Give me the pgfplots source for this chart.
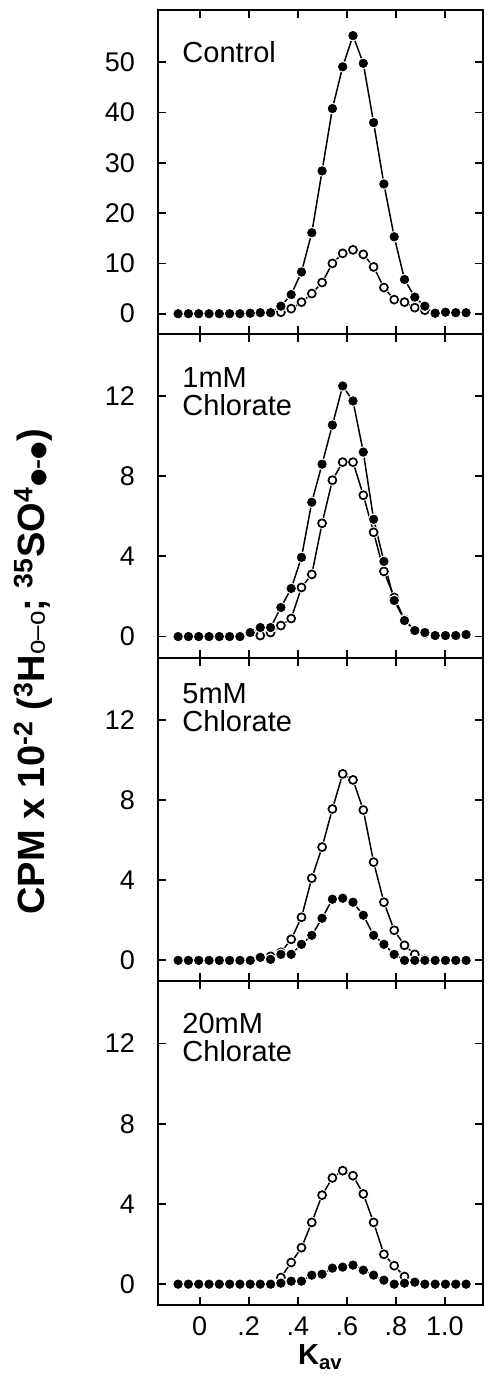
\documentclass[border=0pt]{standalone}
\usepackage{fontspec}
\setmainfont{Liberation Sans}
\newfontfamily\sym{DejaVu Sans}
\usepackage{pgfplots}
\pgfplotsset{compat=1.18}
\usepackage{pgfplotstable}

% x = K_av ; f = 35SO4 (filled) ; o = 3H (open)
\pgfplotstableread{
x f o
-0.088 0 nan
-0.046 0 nan
-0.004 0 nan
0.038 0 nan
0.080 0 nan
0.122 0 nan
0.164 0 nan
0.206 0.1 nan
0.247 0.2 nan
0.289 0.2 nan
0.331 1.5 0.3
0.373 3.8 1.0
0.415 8.3 2.3
0.457 16.1 4.0
0.499 28.4 6.2
0.541 40.8 10.0
0.583 49.1 12.0
0.625 55.3 12.7
0.667 49.8 11.8
0.709 38.0 9.3
0.751 25.8 5.2
0.793 15.3 2.8
0.835 6.8 2.3
0.877 3.3 1.2
0.918 1.5 0.7
0.960 0.1 nan
1.002 0.3 nan
1.044 0.2 nan
1.086 0.2 nan
}\tabA

\pgfplotstableread{
x f o
-0.088 0 nan
-0.046 0 nan
-0.004 0 nan
0.038 0 nan
0.080 0 nan
0.122 0 nan
0.164 0 nan
0.206 0.2 nan
0.247 0.45 0.05
0.289 0.45 0.2
0.331 1.45 0.55
0.373 2.4 0.9
0.415 3.95 2.45
0.457 6.7 3.1
0.499 8.6 5.65
0.541 10.55 7.8
0.583 12.5 8.7
0.625 11.75 8.7
0.667 9.2 7.05
0.709 5.85 5.2
0.751 3.75 3.25
0.793 1.8 1.95
0.835 0.8 0.85
0.877 0.3 0.3
0.918 0.2 0.15
0.960 0.05 nan
1.002 0.05 nan
1.044 0.05 nan
1.086 0.1 nan
}\tabB

\pgfplotstableread{
x f o
-0.088 0 nan
-0.046 0 nan
-0.004 0 nan
0.038 0 nan
0.080 0 nan
0.122 0 nan
0.164 0 nan
0.206 0 nan
0.247 0.15 nan
0.289 0.05 0.2
0.331 0.3 0.4
0.373 0.3 1.05
0.415 0.8 2.15
0.457 1.25 4.1
0.499 2.1 5.65
0.541 3.05 7.55
0.583 3.1 9.3
0.625 2.9 9.0
0.667 2.25 7.5
0.709 1.25 4.9
0.751 0.8 2.9
0.793 0.3 1.5
0.835 0 0.75
0.877 0 0.3
0.918 0 0.05
0.960 0 nan
1.002 0 nan
1.044 0 nan
1.086 0 nan
}\tabC

\pgfplotstableread{
x f o
-0.088 0 nan
-0.046 0 nan
-0.004 0 nan
0.038 0 nan
0.080 0 nan
0.122 0 nan
0.164 0 nan
0.206 0 nan
0.247 0 nan
0.289 0 nan
0.331 0.05 0.33
0.373 0.15 1.08
0.415 0.15 1.82
0.457 0.45 3.08
0.499 0.5 4.44
0.541 0.8 5.3
0.583 0.85 5.66
0.625 0.95 5.41
0.667 0.7 4.5
0.709 0.45 3.08
0.751 0.2 1.49
0.793 0 0.92
0.835 0.05 0.38
0.877 0.1 nan
0.918 0 nan
0.960 0 nan
1.002 0 nan
1.044 0 nan
1.086 0 nan
}\tabD

\tikzset{
  ptxt/.style={anchor=north west, align=left, inner sep=0pt, font=\fontsize{14.5}{14}\selectfont},
}
\pgfplotsset{
  panel/.style={
    scale only axis, width=162.5pt, height=161.9pt,
    anchor=north west,
    xmin=-0.17, xmax=1.155,
    xtick={0,0.2,0.4,0.6,0.8,1.0},
    xticklabels={},
    tick align=inside, major tick length=4pt,
    axis line style={line width=1pt},
    every tick/.style={black, line width=0.9pt},
    yticklabel style={font=\fontsize{13.5}{16}\selectfont, xshift=-8pt},
    xticklabel style={font=\fontsize{13.5}{16}\selectfont, yshift=-2.2pt},
    /pgf/number format/assume math mode=true,
    ymin=-1.05, ymax=15.1, ytick={0,4,8,12},
    clip=false,
  },
  dline/.style={black, line width=0.75pt, no marks},
  halo/.style={white, only marks, mark=*, mark size=2.5pt, mark options={fill=white, draw=white, line width=0.8pt}},
  fmk/.style={black, only marks, mark=*, mark size=2.15pt, mark options={fill=black, draw=black, line width=0.3pt}},
  omk/.style={black, only marks, mark=*, mark size=2.0pt, mark options={fill=white, draw=black, line width=0.85pt}},
}
% draw one panel's two series: lines, then halos (gaps), then marks
\newcommand{\series}[1]{%
  \addplot[dline] table[x=x, y=o] {#1};
  \addplot[dline] table[x=x, y=f] {#1};
  \addplot[halo] table[x=x, y=o] {#1};
  \addplot[omk] table[x=x, y=o] {#1};
  \addplot[halo] table[x=x, y=f] {#1};
  \addplot[fmk] table[x=x, y=f] {#1};
}

\begin{document}
\begin{tikzpicture}
\useasboundingbox (-79pt,5pt) rectangle (167pt,-684pt);

\begin{axis}[panel, at={(0,0)}, ymin=-4, ymax=60.4, ytick={0,10,20,30,40,50}]
  \series{\tabA}
  \node[anchor=west, inner sep=0pt, font=\fontsize{14.5}{17}\selectfont] at (axis description cs:0.074,0.869) {Control};
\end{axis}

\begin{axis}[panel, at={(0,-161.9pt)}]
  \series{\tabB}
  \node[ptxt] at (axis description cs:0.074,0.896) {1mM\\Chlorate};
\end{axis}

\begin{axis}[panel, at={(0,-323.8pt)}]
  \series{\tabC}
  \node[ptxt] at (axis description cs:0.074,0.921) {5mM\\Chlorate};
\end{axis}

\begin{axis}[panel, at={(0,-485.7pt)},
  xticklabels={0,.2,.4,.6,.8,1.0},
  xlabel={\bfseries K\textsubscript{av}},
  xlabel style={font=\fontsize{14.5}{16}\selectfont, inner sep=0pt, yshift=-1pt}]
  \series{\tabD}
  \node[ptxt] at (axis description cs:0.074,0.902) {20mM\\Chlorate};
\end{axis}

\node[rotate=90, anchor=base, inner sep=0pt, font=\bfseries\fontsize{19}{22}\selectfont] at (-56.5pt,-331pt)
  {CPM x 10\textsuperscript{-2} (\textsuperscript{3}H{\mdseries\fontsize{13}{14}\selectfont o--o}; \textsuperscript{35}SO\textsuperscript{4}{\sym\fontsize{10}{12}\selectfont ●–●})};
\end{tikzpicture}
\end{document}
